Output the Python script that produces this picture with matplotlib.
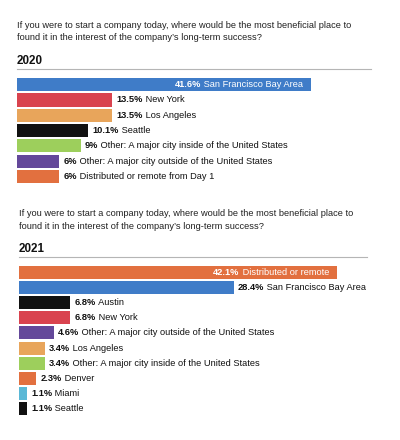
import matplotlib
matplotlib.use('Agg')
import matplotlib.pyplot as plt
from matplotlib.offsetbox import TextArea, HPacker, AnnotationBbox

plt.rcParams['font.family'] = ['Liberation Sans', 'DejaVu Sans']

QUESTION = ("If you were to start a company today, where would be the most beneficial place to\n"
            "found it in the interest of the company\u2019s long-term success?")

BLUE = '#3f7cc8'
RED = '#d9434f'
TAN = '#e8a55b'
BLACK = '#111111'
GREEN = '#9dcf5c'
PURPLE = '#64489a'
ORANGE = '#e2703f'
SKY = '#5ab8d6'

labels_2020 = ['San Francisco Bay Area', 'New York', 'Los Angeles', 'Seattle',
               'Other: A major city inside of the United States',
               'Other: A major city outside of the United States',
               'Distributed or remote from Day 1']
values_2020 = [41.6, 13.5, 13.5, 10.1, 9, 6, 6]
pct_2020 = ['41.6%', '13.5%', '13.5%', '10.1%', '9%', '6%', '6%']
colors_2020 = [BLUE, RED, TAN, BLACK, GREEN, PURPLE, ORANGE]

labels_2021 = ['Distributed or remote', 'San Francisco Bay Area', 'Austin', 'New York',
               'Other: A major city outside of the United States', 'Los Angeles',
               'Other: A major city inside of the United States', 'Denver', 'Miami', 'Seattle']
values_2021 = [42.1, 28.4, 6.8, 6.8, 4.6, 3.4, 3.4, 2.3, 1.1, 1.1]
pct_2021 = ['42.1%', '28.4%', '6.8%', '6.8%', '4.6%', '3.4%', '3.4%', '2.3%', '1.1%', '1.1%']
colors_2021 = [ORANGE, BLUE, BLACK, RED, PURPLE, TAN, GREEN, ORANGE, SKY, BLACK]

W, H = 400, 440
FS = 6.7
fig = plt.figure(figsize=(W / 100, H / 100), dpi=100)
fig.patch.set_facecolor('white')


def px(x, y):
    return x / W, 1 - y / H


def label_box(pct, name, color):
    a = TextArea(pct, textprops=dict(fontsize=FS, fontweight='bold', color=color))
    b = TextArea(' ' + name, textprops=dict(fontsize=FS, color=color))
    return HPacker(children=[a, b], align='center', pad=0, sep=0)


def panel(top, left, n, step, scale, values, pcts, labels, colors, year,
          q_y, year_y, rule_y, rule_right):
    fig.text(*px(left, q_y), QUESTION, fontsize=FS, va='top', ha='left',
             color='#222222', linespacing=1.5)
    fig.text(*px(left, year_y), year, fontsize=8.4, fontweight='bold',
             va='center', ha='left', color='#111111')
    fig.add_artist(plt.Line2D([left / W, rule_right / W],
                              [1 - rule_y / H] * 2, color='#b5b5b5', lw=0.8))
    width_px = 370
    ax = fig.add_axes([left / W, 1 - (top + n * step) / H, width_px / W, n * step / H])
    ax.barh(range(n), values, height=0.86, color=colors)
    ax.set_ylim(n - 0.5, -0.5)
    ax.set_xlim(0, width_px / scale)
    ax.axis('off')
    for i, (v, p, lab) in enumerate(zip(values, pcts, labels)):
        if i == 0:
            box = label_box(p, lab, 'white')
            ab = AnnotationBbox(box, (v, i), xybox=(-6, 0), xycoords='data',
                                boxcoords='offset points', box_alignment=(1, 0.5),
                                frameon=False, pad=0)
        else:
            box = label_box(p, lab, '#111111')
            ab = AnnotationBbox(box, (v, i), xybox=(2.8, 0), xycoords='data',
                                boxcoords='offset points', box_alignment=(0, 0.5),
                                frameon=False, pad=0)
        ax.add_artist(ab)


panel(77, 17, 7, 15.3, 7.07, values_2020, pct_2020, labels_2020, colors_2020,
      '2020', 20.5, 61, 69, 371)
panel(265, 19, 10, 15.1, 7.56, values_2021, pct_2021, labels_2021, colors_2021,
      '2021', 209.5, 249, 257, 367)

fig.savefig('out.png', dpi=100, facecolor='white')
